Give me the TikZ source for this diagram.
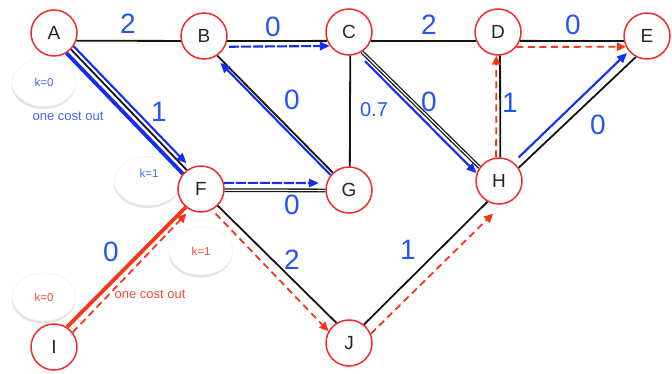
\documentclass[tikz,border=0pt]{standalone}
\usepackage{fontspec}
\setmainfont{Liberation Sans}
\usetikzlibrary{arrows.meta,shapes.geometric,shadows}

\definecolor{ringred}{RGB}{240,45,45}
\definecolor{edgeblack}{RGB}{20,20,20}
\definecolor{pathblue}{RGB}{20,45,240}
\definecolor{numblue}{RGB}{35,85,245}
\definecolor{noteblue}{RGB}{70,100,240}
\definecolor{pathred}{RGB}{245,55,25}
\definecolor{notered}{RGB}{245,75,55}

\tikzset{
  vertex/.style={circle, draw=ringred, line width=1.5pt, fill=white,
    minimum size=46pt, inner sep=0pt, text=black!85,
    font=\fontsize{19}{20}\selectfont},
  edge/.style={draw=edgeblack, line width=1.8pt},
  dbledge/.style={draw=edgeblack, double=white, double distance=1.2pt, line width=1.3pt},
  blueway/.style={draw=pathblue, line width=2.1pt, -{Triangle[length=10pt,width=8.5pt]}},
  bluedash/.style={blueway, dash pattern=on 10pt off 2pt},
  redway/.style={draw=pathred, line width=1.8pt, dash pattern=on 7pt off 4.5pt,
    -{Triangle[length=9pt,width=8.5pt]}},
  weight/.style={text=numblue, inner sep=0pt, font=\fontsize{28}{30}\selectfont},
  smallweight/.style={text=numblue, inner sep=0pt, font=\fontsize{20}{22}\selectfont},
  bubble/.style={ellipse, fill=white, draw=black!7, line width=0.4pt,
    minimum width=64pt, minimum height=48pt, inner sep=0pt,
    drop shadow={shadow xshift=-0.5pt, shadow yshift=-2.5pt, fill=black!35, opacity=0.3},
    font=\fontsize{11.5}{12}\selectfont},
  remark/.style={inner sep=0pt, font=\fontsize{13}{14}\selectfont},
}

\begin{document}
\begin{tikzpicture}[x=1pt, y=-1pt]
\useasboundingbox (0,0) rectangle (672,374);

% annotation bubbles
\node[bubble, text=noteblue] (kA) at (44,82.5) {k=0};
\node[remark, text=noteblue] (oA) at (68,116) {one cost out};
\node[bubble, minimum width=67pt, minimum height=49pt] (kF) at (148,181) {};
\node[inner sep=0pt, text=noteblue, font=\fontsize{11.5}{12}\selectfont] (kFt) at (149,173) {k=1};
\node[bubble, text=notered] (kR) at (201,251) {k=1};
\node[bubble, text=notered] (kI) at (44,297) {k=0};
\node[remark, text=notered] (oI) at (150,294) {one cost out};

% vertices
\node[vertex] (A) at (54,33) {A};
\node[vertex] (B) at (204,36) {B};
\node[vertex] (C) at (349,32) {C};
\node[vertex] (D) at (498,32) {D};
\node[vertex] (E) at (647,36) {E};
\node[vertex] (F) at (201,189) {F};
\node[vertex] (G) at (349,190) {G};
\node[vertex] (H) at (499,181) {H};
\node[vertex] (I) at (54,347) {I};
\node[vertex] (J) at (349,343) {J};

% graph edges
\draw[edge] (A.-19) -- (B.192);
\draw[edge] (B.-12) -- (C.202);
\draw[edge] (C.-22) -- (D.202);
\draw[edge] (D.-22) -- (E.192);
\draw[edge] (A.-44) -- (F.127);
\draw[edge] (B.-56) -- (G.133);
\draw[edge] (C.-87) -- (G.88);
\draw[dbledge] (C.-57) -- (H.145);
\draw[edge] (D.-85) -- (H.87);
\draw[edge] (H.34) -- (E.242);
\draw[dbledge] (F.-3) -- (G.181);
\draw[edge] (F.-45) -- (J.122);
\draw[edge] (J.51) -- (H.241);
\draw[draw=pathred, line width=3.8pt] (I.57) -- (F.230);
\draw[draw=pathblue, line width=3.8pt] (A.-58) -- (F.140);

% blue route
\draw[blueway, shorten >=6pt] (A.-34) -- (F.116);
\draw[bluedash, shorten <=4pt] (B.-27) -- (C.216);
\draw[blueway, shorten >=8pt] (G.141) -- (B.-63);
\draw[bluedash, shorten >=7.5pt] (F.15) -- (G.163);
\draw[blueway, shorten <=10pt] (C.-68) -- (H.161);
\draw[blueway, shorten <=7pt, shorten >=2.5pt] (H.52) -- (E.220);

% red route
\draw[redway, shorten >=5pt] (I.38) -- (F.242);
\draw[redway, shorten <=5pt] (F.-62) -- (J.150);
\draw[redway, shorten >=13pt] (J.23) -- (H.278);
\draw[redway] (H.97) -- (D.-94);
\draw[redway] (D.-39) -- (E.207);

% edge weights
\node[weight] (wAB) at (128,24) {2};
\node[weight] (wBC) at (273,27) {0};
\node[weight] (wCD) at (429,25) {2};
\node[weight] (wDE) at (573,25) {0};
\node[weight] (wAF) at (159,112) {1};
\node[weight] (wBG) at (292,100) {0};
\node[smallweight] (wCG) at (374,110) {0.7};
\node[weight] (wCH) at (429,102) {0};
\node[weight] (wDH) at (510,103) {1};
\node[weight] (wHE) at (598,125) {0};
\node[weight] (wFG) at (292,205) {0};
\node[weight] (wFJ) at (292,260) {2};
\node[weight] (wJH) at (408,250) {1};
\node[weight] (wIF) at (111,252) {0};
\end{tikzpicture}
\end{document}
